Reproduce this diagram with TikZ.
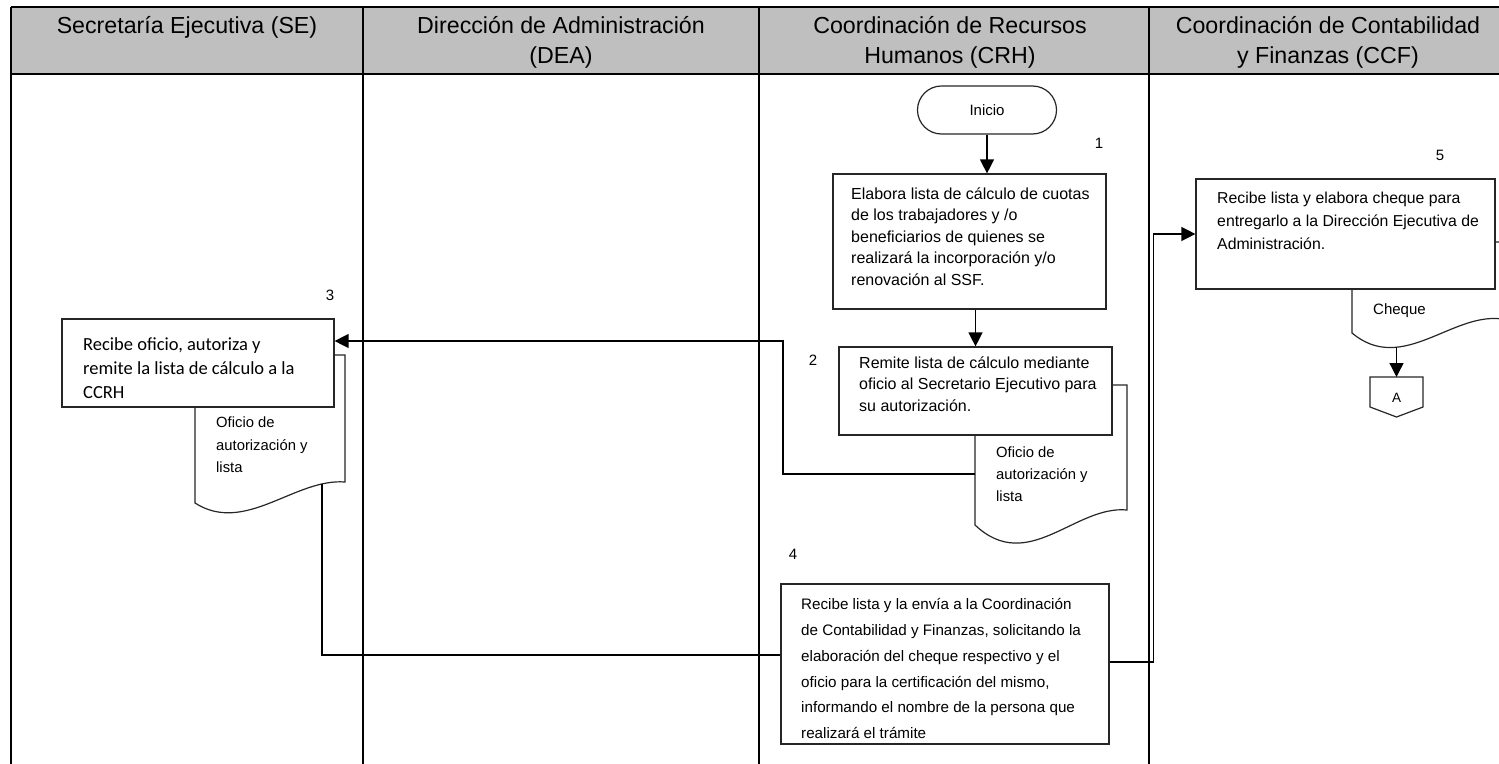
\documentclass[tikz,border=0pt]{standalone}
\usepackage{fontspec}
\setmainfont{Liberation Sans}
\newfontfamily\calib{Carlito}
\usetikzlibrary{arrows.meta,calc}
\begin{document}
\begin{tikzpicture}[x=1pt,y=-1pt,
 lane/.style={line width=1.3pt,black},
 box/.style={draw=black!85,line width=1.2pt,fill=white,inner sep=0pt},
 outline/.style={draw=black!85,line width=1.2pt},
 doc/.style={draw=black!85,line width=1.2pt,fill=white},
 txt/.style={inner sep=0pt,anchor=north west,align=left},
 conn/.style={line width=1.3pt,black},
 arr/.style={conn,-{Triangle[length=14pt,width=14pt]}},
 num/.style={font=\fontsize{15}{18}\selectfont,inner sep=0pt},
 hdr/.style={inner sep=0pt,anchor=north,align=center,font=\fontsize{23.2}{30}\selectfont}
]
\useasboundingbox (0,0) rectangle (1499,763);
\clip (0,0) rectangle (1499,763);
% header and lanes
\fill[black!25] (11,7) rectangle (1510,74);
\draw[lane] (11,7) -- (1510,7);
\draw[lane] (11,74) -- (1510,74);
\foreach \xx in {11,363,759,1149,1507} \draw[lane] (\xx,7) -- (\xx,770);
\node[hdr] (hSE) at (187,12.6) {\strut Secretaría Ejecutiva (SE)};
\node[hdr] (hDEA) at (561,12.6) {\strut Dirección de Administración\\(DEA)};
\node[hdr] (hCRH) at (950,12.6) {\strut Coordinación de Recursos\\Humanos (CRH)};
\node[hdr] (hCCF) at (1328,12.6) {\strut Coordinación de Contabilidad\\y Finanzas (CCF)};
% documents
\draw[doc] (975,385) -- (1127,385) -- (1127,510) .. controls (1075,505) and (1028,575) .. (975,525) -- cycle;
\draw[doc] (195,355) -- (345,355) -- (345,482) .. controls (295,478) and (245,535) .. (195,503) -- cycle;
\draw[doc] (1352,242) -- (1502,242) -- (1502,319) .. controls (1452,312) and (1402,375) .. (1352,333) -- cycle;
\node[txt,font=\fontsize{14.8}{22}\selectfont] (t2d) at (996,442.1) {\strut Oficio de\\autorización y\\lista};
\node[txt,font=\fontsize{14.8}{22.3}\selectfont] (t3d) at (216,411.9) {\strut Oficio de\\autorización y\\lista};
\node[inner sep=0pt,anchor=base west,font=\fontsize{15}{18}\selectfont] (t5d) at (1373,314.5) {Cheque};
% terminal
\node[outline,rounded corners=24pt,minimum width=139pt,minimum height=48pt,inner sep=0pt,font=\fontsize{15}{18}\selectfont] (ini) at (987,110) {Inicio};
% process boxes
\node[box,minimum width=273pt,minimum height=135pt] (b1) at (969.5,241.5) {};
\node[txt,font=\fontsize{16}{21.5}\selectfont] (t1) at (851,183.9) {\strut Elabora lista de cálculo de cuotas\\de los trabajadores y /o\\beneficiarios de quienes se\\realizará la incorporación y/o\\renovación al SSF.};
\node[box,minimum width=273pt,minimum height=88pt] (b2) at (975.5,391) {};
\node[txt,font=\fontsize{16}{21.5}\selectfont] (t2) at (859,352.9) {\strut Remite lista de cálculo mediante\\oficio al Secretario Ejecutivo para\\su autorización.};
\node[box,minimum width=272pt,minimum height=88pt] (b3) at (198,363) {};
\node[txt,font=\calib\fontsize{18.5}{24}\selectfont] (t3) at (83,333) {\strut Recibe oficio, autoriza y\\remite la lista de cálculo a la\\CCRH};
\node[box,minimum width=328pt,minimum height=160pt] (b4) at (945,664) {};
\node[txt,font=\fontsize{15.2}{25.8}\selectfont] (t4) at (801,591.5) {\strut Recibe lista y la envía a la Coordinación\\de Contabilidad y Finanzas, solicitando la\\elaboración del cheque respectivo y el\\oficio para la certificación del mismo,\\informando el nombre de la persona que\\realizará el trámite};
\node[box,minimum width=299pt,minimum height=110pt] (b5) at (1345.5,234) {};
\node[txt,font=\fontsize{15.8}{23}\selectfont] (t5) at (1217,186.7) {\strut Recibe lista y elabora cheque para\\entregarlo a la Dirección Ejecutiva de\\Administración.};
% off-page connector
\coordinate (Ac) at (1396.5,398);
\coordinate (Atop) at ($(Ac)+(0,-21)$);
\draw[outline] ($(Ac)+(-26.5,-21)$) -- ($(Ac)+(26.5,-21)$) -- ($(Ac)+(26.5,9)$) -- ($(Ac)+(0,19)$) -- ($(Ac)+(-26.5,9)$) -- cycle;
\node[inner sep=0pt,font=\fontsize{13.5}{16}\selectfont] (A) at (Ac) {A};
% step numbers
\node[num] (n1) at (1099,143) {1};
\node[num] (n2) at (813,360) {2};
\node[num] (n3) at (330,295) {3};
\node[num] (n4) at (793,554) {4};
\node[num] (n5) at (1440,155) {5};
% connectors
\coordinate (d2w) at (975,474);
\coordinate (d3s) at (322,484);
\coordinate (d5s) at (1396.5,347);
\draw[arr] (ini.south) -- (ini.south |- b1.north);
\draw[arr] (b2.north |- b1.south) -- (b2.north);
\draw[arr] (d2w) -- ++(-192,0) |- ($(b3.east)+(0,-22)$);
\draw[conn] (d3s) |- ($(b4.west)+(0,-9)$);
\draw[arr] ($(b4.east)+(0,-2)$) -- ++(44,0) |- (b5.west);
\draw[arr] (d5s) -- (Atop);
\end{tikzpicture}
\end{document}
